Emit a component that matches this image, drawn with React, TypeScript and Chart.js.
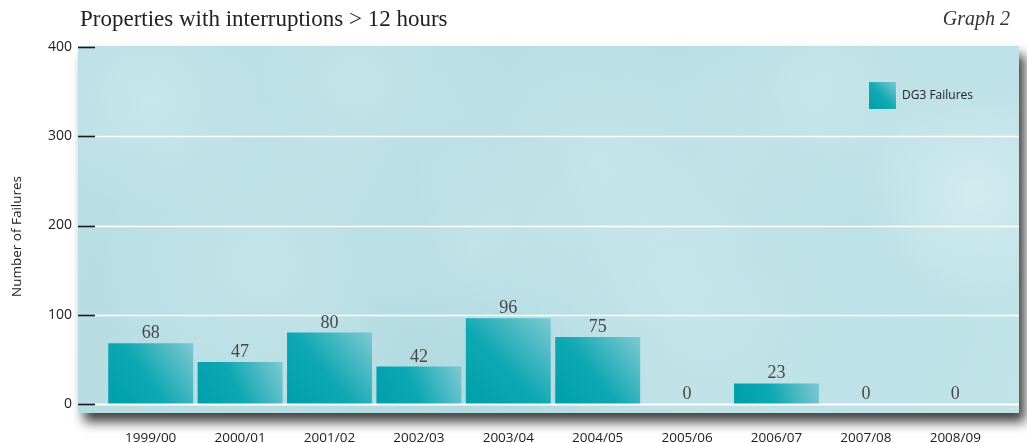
import React, { useEffect, useRef } from "react";
import { Chart, registerables } from "chart.js";

Chart.register(...registerables);

// Financial years on the category axis
const seasons = [
  "1999/00",
  "2000/01",
  "2001/02",
  "2002/03",
  "2003/04",
  "2004/05",
  "2005/06",
  "2006/07",
  "2007/08",
  "2008/09",
];

// Properties with interruptions longer than 12 hours (DG3 failures)
const dg3Failures = [68, 47, 80, 42, 96, 75, 0, 23, 0, 0];

// Value axis tick values
const yTicks = [0, 100, 200, 300, 400];

const chartTitle = "Properties with interruptions > 12 hours";
const graphTag = "Graph 2";
const yTitle = "Number of Failures";
const seriesName = "DG3 Failures";

const SANS = "'Open Sans', 'DejaVu Sans', sans-serif";
const SERIF = "'Liberation Serif', 'DejaVu Serif', serif";

// Soft light patches on the water-coloured backdrop (fractions of the panel)
const sheen = [
  [0.08, 0.15, 0.12, 0.35],
  [0.3, 0.1, 0.16, 0.3],
  [0.55, 0.3, 0.2, 0.35],
  [0.78, 0.12, 0.15, 0.3],
  [0.95, 0.4, 0.12, 0.5],
  [0.2, 0.6, 0.18, 0.3],
  [0.65, 0.7, 0.2, 0.3],
  [0.42, 0.55, 0.12, 0.25],
];

const fin = (...v: number[]) => v.every((n) => Number.isFinite(n));

function tealGradient(
  ctx: CanvasRenderingContext2D,
  x0: number,
  y0: number,
  x1: number,
  y1: number
) {
  if (!fin(x0, y0, x1, y1)) return "#0EA8B3";
  const g = ctx.createLinearGradient(x0, y0, x1, y1);
  g.addColorStop(0, "#009FAB");
  g.addColorStop(0.45, "#0EA8B3");
  g.addColorStop(1, "#7FC8D1");
  return g;
}

function panelRect(chart: any) {
  const a = chart.chartArea;
  return {
    left: a.left - 28,
    top: a.top - 1,
    right: a.right + 19,
    bottom: a.bottom + 9,
  };
}

const backdropPlugin = {
  id: "backdrop",
  beforeDatasetsDraw(chart: any) {
    const ctx: CanvasRenderingContext2D = chart.ctx;
    const p = panelRect(chart);
    const w = p.right - p.left;
    const h = p.bottom - p.top;
    ctx.save();
    ctx.shadowColor = "rgba(0,0,0,0.75)";
    ctx.shadowBlur = 11;
    ctx.shadowOffsetX = 6;
    ctx.shadowOffsetY = 9;
    ctx.fillStyle = "#B6DDE3";
    ctx.fillRect(p.left, p.top, w, h);
    ctx.restore();

    ctx.save();
    ctx.beginPath();
    ctx.rect(p.left, p.top, w, h);
    ctx.clip();
    const base = ctx.createLinearGradient(p.left, p.top, p.right, p.bottom);
    base.addColorStop(0, "#BADFE5");
    base.addColorStop(0.5, "#B2DBE1");
    base.addColorStop(1, "#C2E4E9");
    ctx.fillStyle = base;
    ctx.fillRect(p.left, p.top, w, h);
    for (const [fx, fy, fr, a] of sheen) {
      const cx = p.left + fx * w;
      const cy = p.top + fy * h;
      const r = fr * w;
      const g = ctx.createRadialGradient(cx, cy, 0, cx, cy, r);
      g.addColorStop(0, `rgba(230,245,247,${a})`);
      g.addColorStop(1, "rgba(230,245,247,0)");
      ctx.fillStyle = g;
      ctx.fillRect(cx - r, cy - r, r * 2, r * 2);
    }
    ctx.restore();
  },
  afterDatasetsDraw(chart: any) {
    const ctx: CanvasRenderingContext2D = chart.ctx;
    const p = panelRect(chart);
    const y = chart.scales.y;
    const markEnd = p.left + 17;
    ctx.save();
    for (const v of yTicks) {
      const py = Math.round(y.getPixelForValue(v)) + 0.5;
      if (v !== 400) {
        ctx.strokeStyle = "#FFFFFF";
        ctx.lineWidth = v === 0 ? 2 : 1.6;
        ctx.beginPath();
        ctx.moveTo(markEnd, py);
        ctx.lineTo(p.right, py);
        ctx.stroke();
      }
      ctx.strokeStyle = "#1A1A1A";
      ctx.lineWidth = 1.6;
      ctx.beginPath();
      ctx.moveTo(p.left, py);
      ctx.lineTo(markEnd, py);
      ctx.stroke();
    }

    // value labels above each bar
    const meta = chart.getDatasetMeta(0);
    ctx.fillStyle = "#474747";
    ctx.font = `18px ${SERIF}`;
    ctx.textAlign = "center";
    ctx.textBaseline = "alphabetic";
    meta.data.forEach((bar: any, i: number) => {
      ctx.fillText(String(dg3Failures[i]), bar.x, bar.y - 5);
    });
    ctx.restore();
  },
  afterDraw(chart: any) {
    const ctx: CanvasRenderingContext2D = chart.ctx;
    const p = panelRect(chart);
    const a = chart.chartArea;
    ctx.save();
    // heading
    ctx.fillStyle = "#222222";
    ctx.font = `23px ${SERIF}`;
    ctx.textAlign = "left";
    ctx.textBaseline = "alphabetic";
    ctx.fillText(chartTitle, p.left + 2, 26);
    ctx.font = `italic 20px ${SERIF}`;
    ctx.fillStyle = "#333333";
    ctx.textAlign = "right";
    ctx.fillText(graphTag, p.right - 9, 25);

    // vertical axis title
    ctx.translate(17, (a.top + a.bottom) / 2 + 11);
    ctx.rotate(-Math.PI / 2);
    ctx.fillStyle = "#222222";
    ctx.font = `13.5px ${SANS}`;
    ctx.textAlign = "center";
    ctx.textBaseline = "middle";
    ctx.fillText(yTitle, 0, 0);
    ctx.restore();

    // legend
    ctx.save();
    const lx = p.right - 150;
    const ly = p.top + 36;
    ctx.fillStyle = tealGradient(ctx, lx, ly + 27, lx + 27, ly);
    ctx.fillRect(lx, ly, 27, 27);
    ctx.fillStyle = "#222222";
    ctx.font = `12px ${SANS}`;
    ctx.textAlign = "left";
    ctx.textBaseline = "middle";
    ctx.fillText(chart.data.datasets[0].label, lx + 33, ly + 14);
    ctx.restore();
  },
};

export default function App() {
  const canvasRef = useRef<HTMLCanvasElement | null>(null);

  useEffect(() => {
    if (!canvasRef.current) return;
    const chart = new Chart(canvasRef.current, {
      type: "bar",
      data: {
        labels: seasons,
        datasets: [
          {
            label: seriesName,
            data: dg3Failures,
            barPercentage: 0.95,
            categoryPercentage: 1.0,
            borderWidth: 0,
            backgroundColor: (c: any) => {
              const chart = c.chart;
              const xs = chart.scales?.x;
              const ys = chart.scales?.y;
              if (!xs || !ys || c.type !== "data") return "#0EA8B3";
              const cx = xs.getPixelForValue(c.dataIndex);
              const half = ((xs.width / seasons.length) * 0.95) / 2;
              const base = ys.getPixelForValue(0);
              const top = Math.min(ys.getPixelForValue(c.raw), base - 1);
              return tealGradient(chart.ctx, cx - half, base, cx + half, top);
            },
          },
        ],
      },
      options: {
        responsive: false,
        animation: false,
        devicePixelRatio: 1,
        layout: { padding: { top: 47, right: 27, left: 0, bottom: 0 } },
        plugins: {
          legend: { display: false },
          tooltip: { enabled: false },
          title: { display: false },
        },
        scales: {
          x: {
            type: "category",
            offset: true,
            grid: { display: false, drawTicks: false },
            border: { display: false },
            ticks: {
              color: "#222222",
              font: { family: SANS, size: 13.5 },
              padding: 26,
              maxRotation: 0,
              autoSkip: false,
            },
            afterFit: (s: any) => {
              s.height = 39;
            },
          },
          y: {
            min: 0,
            max: 400,
            grid: { display: false, drawTicks: false },
            border: { display: false },
            ticks: {
              stepSize: 100,
              color: "#222222",
              font: { family: SANS, size: 14 },
              padding: 34,
            },
            afterFit: (s: any) => {
              s.width = 106;
              // only the half-label overhang is needed above and below
              s.paddingTop = 9;
              s.paddingBottom = 9;
            },
          },
        },
      },
      plugins: [backdropPlugin],
    });
    return () => chart.destroy();
  }, []);

  return (
    <div
      style={{
        position: "fixed",
        left: 0,
        top: 0,
        width: 1027,
        height: 443,
        background: "#FFFFFF",
      }}
    >
      <canvas ref={canvasRef} width={1027} height={443} />
    </div>
  );
}
